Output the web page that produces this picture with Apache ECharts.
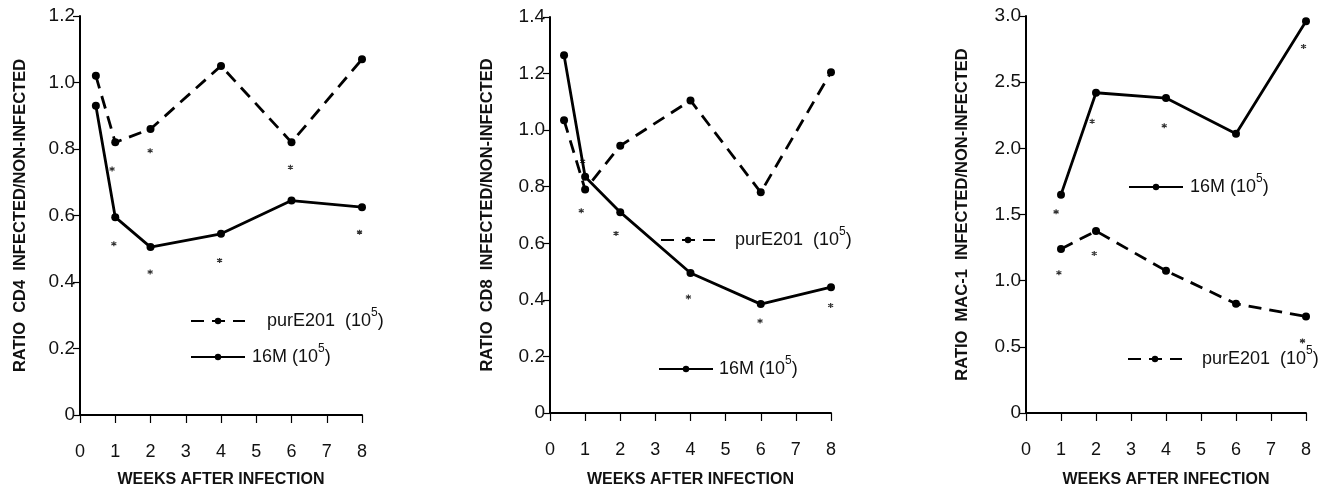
<!DOCTYPE html>
<html>
<head>
<meta charset="utf-8">
<script src="https://cdn.jsdelivr.net/npm/echarts@6/dist/echarts.min.js"></script>
<style>
html,body{margin:0;padding:0;background:#fff;}
#chart{width:1334px;height:493px;}
</style>
</head>
<body>
<div id="chart"></div>
<script>
// ---- Data ----
var xTicks = [0, 1, 2, 3, 4, 5, 6, 7, 8];

var cd4Weeks16M = [0.45, 1, 2, 4, 6, 8];
var cd4Values16M = [0.93, 0.595, 0.505, 0.545, 0.645, 0.625];
var cd4WeeksPur = [0.45, 1, 2, 4, 6, 8];
var cd4ValuesPur = [1.02, 0.82, 0.86, 1.05, 0.82, 1.07];
var cd4StarX = [0.91, 0.96, 1.99, 1.99, 3.96, 5.97, 7.93];
var cd4StarY = [0.74, 0.515, 0.795, 0.43, 0.465, 0.745, 0.55];

var cd8Weeks16M = [0.4, 1, 2, 4, 6, 8];
var cd8Values16M = [1.265, 0.835, 0.71, 0.495, 0.385, 0.445];
var cd8WeeksPur = [0.4, 1, 2, 4, 6, 8];
var cd8ValuesPur = [1.035, 0.79, 0.945, 1.105, 0.78, 1.205];
var cd8StarX = [0.93, 0.89, 1.88, 3.94, 5.98, 7.99];
var cd8StarY = [0.89, 0.715, 0.635, 0.41, 0.325, 0.38];

var macWeeks16M = [1, 2, 4, 6, 8];
var macValues16M = [1.65, 2.42, 2.38, 2.11, 2.96];
var macWeeksPur = [1, 2, 4, 6, 8];
var macValuesPur = [1.24, 1.375, 1.075, 0.825, 0.73];
var macStarX = [0.86, 0.94, 1.89, 1.95, 3.95, 7.93, 7.90];
var macStarY = [1.52, 1.06, 2.205, 1.205, 2.17, 2.77, 0.545];

var yTitles = ['RATIO  CD4  INFECTED/NON-INFECTED', 'RATIO  CD8  INFECTED/NON-INFECTED', 'RATIO  MAC-1  INFECTED/NON-INFECTED'];
var xTitle = 'WEEKS AFTER INFECTION';
var yMax = [1.2, 1.4, 3.0];
var yInterval = [0.2, 0.2, 0.5];
var name16M = '16M';
var namePur = 'purE201';

// ---- Build chart ----
function pairs(xs, ys) { return xs.map(function (x, i) { return [x, ys[i]]; }); }

var FONT = 'Liberation Sans, Arial, Helvetica, sans-serif';
var grids = [
  {left: 80, top: 16, width: 282, height: 401},
  {left: 550, top: 17, width: 281, height: 404},
  {left: 1026, top: 16, width: 280, height: 400}
];
var yNameGap = [51, 54, 55];
var xNameGap = [57, 59, 59];

var xAxes = [], yAxes = [];
for (var i = 0; i < 3; i++) {
  xAxes.push({
    type: 'value', gridIndex: i, min: 0, max: 8, interval: 1,
    name: xTitle, nameLocation: 'middle', nameGap: xNameGap[i],
    nameTextStyle: {fontFamily: FONT, fontSize: 16, fontWeight: 'bold', color: '#111'},
    axisLine: {lineStyle: {color: '#000', width: 2}},
    axisTick: {show: true, inside: false, length: 8, lineStyle: {color: '#000', width: 1.2}},
    axisLabel: {margin: 28, fontFamily: FONT, fontSize: 18, color: '#111',
      formatter: function (v) { return xTicks.indexOf(v) >= 0 ? String(v) : ''; }},
    splitLine: {show: false}
  });
  yAxes.push({
    type: 'value', gridIndex: i, min: 0, max: yMax[i], interval: yInterval[i],
    name: yTitles[i], nameLocation: 'middle', nameGap: yNameGap[i], nameRotate: 90,
    nameTextStyle: {fontFamily: FONT, fontSize: 16.5, fontWeight: 'bold', color: '#111'},
    axisLine: {show: true, lineStyle: {color: '#000', width: 2}},
    axisTick: {show: true, inside: false, length: 7, lineStyle: {color: '#000', width: 1.2}},
    axisLabel: {margin: 5, fontFamily: FONT, fontSize: 19, color: '#111',
      formatter: function (v) { return v === 0 ? '0' : v.toFixed(1); }},
    splitLine: {show: false}
  });
}

function lineSeries(name, idx, data, dashed) {
  return {
    name: name, type: 'line', xAxisIndex: idx, yAxisIndex: idx, data: data,
    symbol: 'circle', symbolSize: 8,
    itemStyle: {color: '#000'},
    lineStyle: {color: '#000', width: 2.8, type: dashed ? [13, 8] : 'solid'},
    z: 3
  };
}
var STAR = 'path://M5,0L5,10M0.67,2.5L9.33,7.5M0.67,7.5L9.33,2.5';
function starSeries(idx, data) {
  return {
    name: 'sig' + idx, type: 'scatter', xAxisIndex: idx, yAxisIndex: idx, data: data,
    symbol: STAR, symbolSize: 5,
    itemStyle: {color: 'rgba(0,0,0,0)', borderColor: '#000', borderWidth: 1.2},
    z: 2
  };
}

var series = [
  lineSeries(namePur, 0, pairs(cd4WeeksPur, cd4ValuesPur), true),
  lineSeries(name16M, 0, pairs(cd4Weeks16M, cd4Values16M), false),
  starSeries(0, pairs(cd4StarX, cd4StarY)),
  lineSeries(namePur, 1, pairs(cd8WeeksPur, cd8ValuesPur), true),
  lineSeries(name16M, 1, pairs(cd8Weeks16M, cd8Values16M), false),
  starSeries(1, pairs(cd8StarX, cd8StarY)),
  lineSeries(name16M, 2, pairs(macWeeks16M, macValues16M), false),
  lineSeries(namePur, 2, pairs(macWeeksPur, macValuesPur), true),
  starSeries(2, pairs(macStarX, macStarY))
];

function legendItem(name, left, top, gap) {
  return {
    data: [name], left: left, top: top, orient: 'horizontal',
    itemWidth: 54, itemHeight: 8, selectedMode: false, padding: 0,
    lineStyle: {width: 2},
    textStyle: {
      fontFamily: FONT, fontSize: 18, color: '#111',
      rich: {
        t: {fontFamily: FONT, fontSize: 18, color: '#111', padding: [0, 0, 0, gap]},
        sup: {fontFamily: FONT, fontSize: 12, color: '#111', verticalAlign: 'top', padding: [0, 0, 16, 0]},
        p: {fontFamily: FONT, fontSize: 18, color: '#111'}
      }
    },
    formatter: function (n) {
      return '{t|' + (n === namePur ? n + '  (10' : n + ' (10') + '}{sup|5}{p|)}';
    }
  };
}

var legends = [
  legendItem(namePur, 190, 307, 17),
  legendItem(name16M, 190, 343, 2),
  legendItem(namePur, 660, 226, 15),
  legendItem(name16M, 658, 355, 1),
  legendItem(name16M, 1128, 173, 2),
  legendItem(namePur, 1127, 345, 15)
];

var chart = echarts.init(document.getElementById('chart'), null, {renderer: 'canvas'});
chart.setOption({
  backgroundColor: '#fff',
  animation: false,
  grid: grids,
  xAxis: xAxes,
  yAxis: yAxes,
  legend: legends,
  series: series
});
</script>
</body>
</html>
